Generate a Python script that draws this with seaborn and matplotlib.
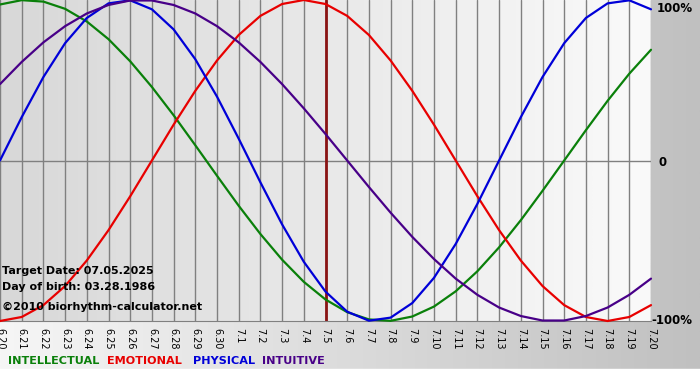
import numpy as np
import pandas as pd
import matplotlib.pyplot as plt
import seaborn as sns
from matplotlib.colors import LinearSegmentedColormap

# --- data (one value per day, -1 .. 1) ---
days = ["6.20", "6.21", "6.22", "6.23", "6.24", "6.25", "6.26", "6.27", "6.28", "6.29", "6.30",
        "7.1", "7.2", "7.3", "7.4", "7.5", "7.6", "7.7", "7.8", "7.9", "7.10",
        "7.11", "7.12", "7.13", "7.14", "7.15", "7.16", "7.17", "7.18", "7.19", "7.20"]

intellectual = [0.972, 0.999, 0.990, 0.945, 0.866, 0.756, 0.618, 0.458, 0.282, 0.095, -0.095,
                -0.282, -0.458, -0.618, -0.756, -0.866, -0.945, -0.990, -0.999, -0.972, -0.910,
                -0.815, -0.690, -0.541, -0.372, -0.189, 0.0, 0.189, 0.372, 0.541, 0.690]
emotional = [-1.0, -0.975, -0.901, -0.782, -0.623, -0.434, -0.223, 0.0, 0.223, 0.434, 0.623,
             0.782, 0.901, 0.975, 1.0, 0.975, 0.901, 0.782, 0.623, 0.434, 0.223,
             0.0, -0.223, -0.434, -0.623, -0.782, -0.901, -0.975, -1.0, -0.975, -0.901]
physical = [0.0, 0.270, 0.520, 0.731, 0.888, 0.979, 0.998, 0.942, 0.817, 0.631, 0.398,
            0.136, -0.136, -0.398, -0.631, -0.817, -0.942, -0.998, -0.979, -0.888, -0.731,
            -0.520, -0.270, 0.0, 0.270, 0.520, 0.731, 0.888, 0.979, 0.998, 0.942]
intuitive = [0.476, 0.614, 0.736, 0.837, 0.916, 0.969, 0.997, 0.997, 0.969, 0.916, 0.837,
             0.736, 0.614, 0.476, 0.325, 0.165, 0.0, -0.165, -0.325, -0.476, -0.614,
             -0.736, -0.837, -0.916, -0.969, -0.997, -0.997, -0.969, -0.916, -0.837, -0.736]

series_names = ["INTELLECTUAL", "EMOTIONAL", "PHYSICAL", "INTUITIVE"]
series_colors = ["#0a800a", "#e80000", "#0000d8", "#480088"]
target_day = "7.5"

# long table for seaborn
df = pd.DataFrame({
    "day": list(range(len(days))) * 4,
    "value": intellectual + emotional + physical + intuitive,
    "series": [s for s in series_names for _ in days],
})

sns.set_style("white")
plt.rcParams['font.family'] = ['DejaVu Sans']
plt.rcParams['text.color'] = 'black'
plt.rcParams['xtick.color'] = 'black'

W, H = 700, 380
fig = plt.figure(figsize=(7, 3.8), dpi=100)

# --- figure background: light to gray from left to right, white strip at the bottom ---
bg = fig.add_axes([0, 0, 1, 1], zorder=-10)
grad = np.linspace(0, 1, 256).reshape(1, -1)
fig_cmap = LinearSegmentedColormap.from_list("figbg", ["#f6f6f6", "#c0c0c0"])
bg.imshow(grad, aspect="auto", cmap=fig_cmap, extent=[0, 1, 11 / H, 1])
bg.axhspan(0, 11 / H, color="white")
bg.set_xlim(0, 1)
bg.set_ylim(0, 1)
bg.axis("off")

# --- plot area ---
ax = fig.add_axes([0, 1 - 321 / H, 651 / W, 321 / H])
ax_cmap = LinearSegmentedColormap.from_list("axbg", ["#d8d8d8", "#fafafa"])
ax.imshow(grad, aspect="auto", cmap=ax_cmap, extent=[0, len(days) - 1, -1, 1], zorder=0)

sns.lineplot(data=df, x="day", y="value", hue="series", hue_order=series_names,
             palette=series_colors, linewidth=1.6, legend=False, ax=ax, zorder=3)
for ln in ax.get_lines():
    ln.set_clip_on(False)

ax.set_xlim(0, len(days) - 1)
ax.set_ylim(-1, 1)
ax.set_xticks(range(len(days)))
ax.set_xticklabels(days, rotation=-90, fontsize=7, va="top", color="black")
ax.set_yticks([])
ax.set_xlabel("")
ax.set_ylabel("")
ax.grid(axis="x", color="#808080", linewidth=1)
ax.axhline(0, color="#808080", linewidth=1, zorder=1)
ax.axvline(days.index(target_day), color="#8a1414", linewidth=2, zorder=2)
ax.tick_params(axis="x", length=3, color="#808080", pad=2)
for side in ["left", "right", "top"]:
    ax.spines[side].set_visible(False)
ax.spines["bottom"].set_color("#808080")

# right-hand labels
ytr = ax.get_yaxis_transform()
ax.text(1.009, 0.99, "100%", transform=ytr, fontsize=8.5, fontweight="bold", va="top", ha="left")
ax.text(1.012, -0.01, "0", transform=ytr, fontsize=8.5, fontweight="bold", va="center", ha="left")
ax.text(1.0, -1.0, "-100%", transform=ytr, fontsize=8.5, fontweight="bold", va="center", ha="left")

# info text inside the chart
info = [("Target Date: 07.05.2025", 271), ("Day of birth: 03.28.1986", 287),
        ("\u00a92010 biorhythm-calculator.net", 307)]
for txt, yp in info:
    fig.text(2 / W, 1 - yp / H, txt, fontsize=8, fontweight="bold", va="center", ha="left")

# legend words along the bottom
legend_x = [8, 107, 193, 262]
for name, col, xp in zip(series_names, series_colors, legend_x):
    fig.text(xp / W, 1 - 361 / H, name, color=col, fontsize=8.1, fontweight="bold",
             va="center", ha="left")

fig.savefig("out.png", dpi=100)
